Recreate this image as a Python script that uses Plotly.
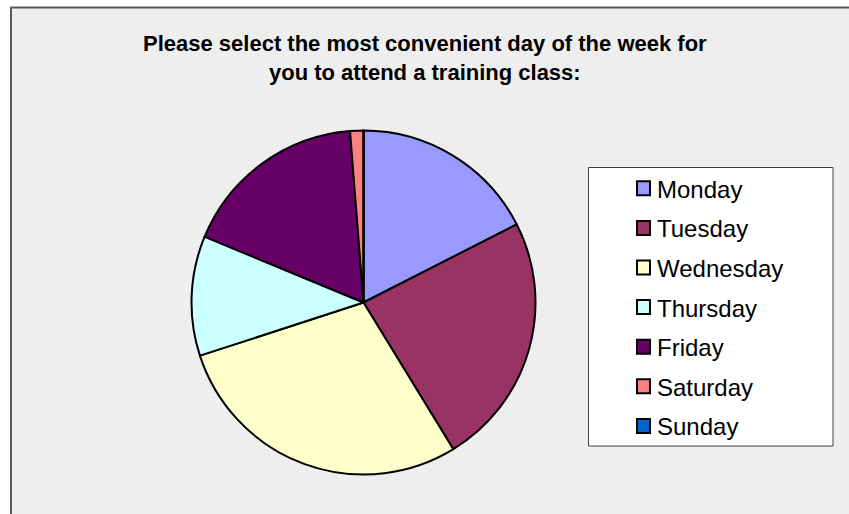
import plotly.graph_objects as go

W, H = 849, 514

days = ['Monday', 'Tuesday', 'Wednesday', 'Thursday', 'Friday', 'Saturday', 'Sunday']
responses = [14, 19, 23, 9, 14, 1, 0]
day_colors = ['#9999FF', '#993366', '#FFFFCC', '#CCFFFF', '#660066', '#FF8080', '#0066CC']

title_text = ('<b>Please select the most convenient day of the week for<br>'
              'you to attend a training class:</b>')


def px_x(x):
    return x / W


def px_y(y):
    return 1 - y / H


fig = go.Figure()
fig.add_trace(go.Pie(
    labels=days,
    values=responses,
    sort=False,
    direction='clockwise',
    rotation=0,
    marker=dict(colors=day_colors, line=dict(color='black', width=2)),
    textinfo='none',
    hoverinfo='label+value+percent',
    showlegend=False,
    domain=dict(x=[px_x(363.5 - 172), px_x(363.5 + 172)],
                y=[px_y(474.5), px_y(130.5)]),
))

shapes = [
    # grey chart area with its top/left edge
    dict(type='rect', xref='paper', yref='paper', layer='below',
         x0=px_x(11), x1=1.02, y0=-0.02, y1=px_y(7.5),
         fillcolor='#EEEEEE', line=dict(color='#5A5A5A', width=2)),
    # legend box
    dict(type='rect', xref='paper', yref='paper',
         x0=px_x(588.5), x1=px_x(833), y0=px_y(446), y1=px_y(167.5),
         fillcolor='white', line=dict(color='#404040', width=1)),
]

annotations = [
    dict(text=title_text, x=px_x(424.5), y=px_y(58), xref='paper', yref='paper',
         xanchor='center', yanchor='middle', showarrow=False, align='center',
         font=dict(family='Liberation Sans, Arial', size=22, color='black'))
]

# legend entries
for i, (day, col) in enumerate(zip(days, day_colors)):
    yc = 188.3 + 39.6 * i
    shapes.append(dict(type='rect', xref='paper', yref='paper',
                       x0=px_x(637), x1=px_x(650), y0=px_y(yc + 7), y1=px_y(yc - 7),
                       fillcolor=col, line=dict(color='black', width=2)))
    annotations.append(dict(text=day, x=px_x(655), y=px_y(yc + 1), xref='paper', yref='paper',
                            xanchor='left', yanchor='middle', showarrow=False,
                            font=dict(family='Liberation Sans, Arial', size=24, color='black')))

fig.update_layout(
    width=W,
    height=H,
    margin=dict(l=0, r=0, t=0, b=0),
    paper_bgcolor='white',
    plot_bgcolor='rgba(0,0,0,0)',
    shapes=shapes,
    annotations=annotations,
)

fig.write_html('out.html', config={'displayModeBar': False},
               post_script="document.body.style.margin='0';document.body.style.overflow='hidden';")
